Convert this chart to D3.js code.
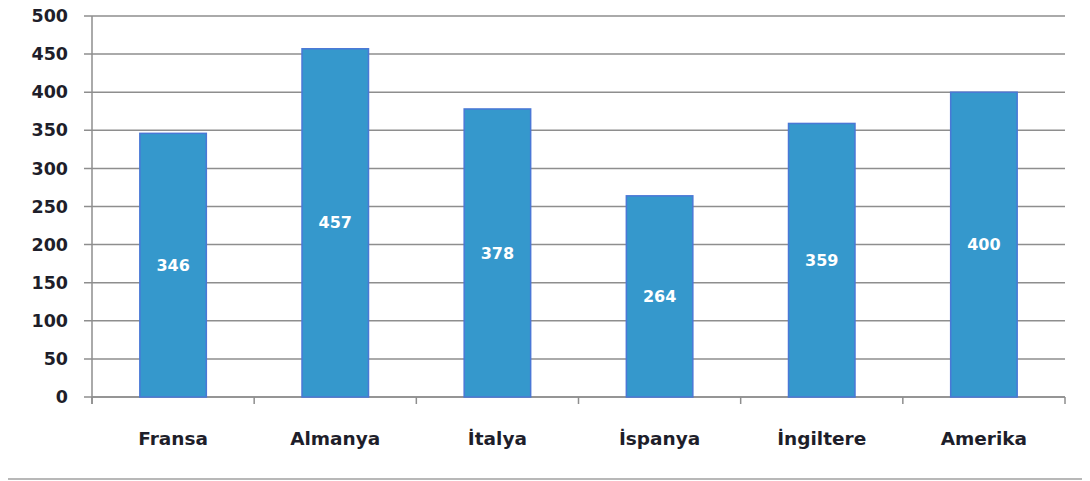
<!DOCTYPE html>
<html><head><meta charset="utf-8">
<script src="https://cdn.jsdelivr.net/npm/d3@7"></script>
<style>body{margin:0;background:#fff}svg{display:block}</style>
</head><body>
<svg id="c" width="1090" height="481"></svg>
<script>
const categories = ["Fransa","Almanya","İtalya","İspanya","İngiltere","Amerika"];
const values = [346,457,378,264,359,400];
const yTicks = [0,50,100,150,200,250,300,350,400,450,500];

const svg = d3.select("#c");
const L = 92, R = 1065, T = 16, B = 397;
const x = d3.scaleBand().domain(categories).range([L,R]).paddingInner(0.59).paddingOuter(0.295);
const y = d3.scaleLinear().domain([0,500]).range([B,T]);
const font = "'DejaVu Sans', Verdana, sans-serif";

// gridlines
svg.append("g").selectAll("line").data(yTicks).join("line")
  .attr("x1",L-8).attr("x2",R).attr("y1",d=>y(d)).attr("y2",d=>y(d))
  .attr("stroke","#8e8e8e").attr("stroke-width",1.5);

// y axis
const ya = svg.append("g").attr("transform",`translate(${L},0)`)
  .call(d3.axisLeft(y).tickValues(yTicks).tickSize(0).tickPadding(24));
ya.select(".domain").attr("stroke","#8e8e8e").attr("stroke-width",1.5).attr("d",`M0,${T}V${B+7}`);
ya.selectAll("text").attr("font-family",font).attr("font-weight","bold").attr("font-size",17.5).attr("fill","#1e1e2a");

// x axis
const xa = svg.append("g").attr("transform",`translate(0,${B})`)
  .call(d3.axisBottom(x).tickSize(0).tickPadding(35));
xa.select(".domain").attr("stroke","#8e8e8e").attr("stroke-width",1.5).attr("d",`M${L},0H${R}`);
xa.selectAll("text").attr("font-family",font).attr("font-weight","bold").attr("font-size",18.5).attr("fill","#1e1e2a");
// boundary ticks
const step = x.step();
svg.append("g").selectAll("line").data(d3.range(categories.length+1)).join("line")
  .attr("x1",i=>L+i*step).attr("x2",i=>L+i*step).attr("y1",B).attr("y2",B+7)
  .attr("stroke","#8e8e8e").attr("stroke-width",1.5);

// bars
svg.append("g").selectAll("rect").data(values).join("rect")
  .attr("x",(d,i)=>x(categories[i])).attr("width",x.bandwidth())
  .attr("y",d=>y(d)).attr("height",d=>B-y(d))
  .attr("fill","#3598cc").attr("stroke","#4a78d6").attr("stroke-width",1.5);

// value labels
svg.append("g").selectAll("text").data(values).join("text")
  .attr("x",(d,i)=>x(categories[i])+x.bandwidth()/2)
  .attr("y",d=>(y(d)+B)/2).attr("dy","0.35em").attr("text-anchor","middle")
  .attr("font-family",font).attr("font-weight","bold").attr("font-size",16).attr("fill","#fff")
  .text(d=>d);

// bottom frame line
svg.append("line").attr("x1",8).attr("x2",1082).attr("y1",479).attr("y2",479)
  .attr("stroke","#a0a0a0").attr("stroke-width",1.5);
</script>
</body></html>
